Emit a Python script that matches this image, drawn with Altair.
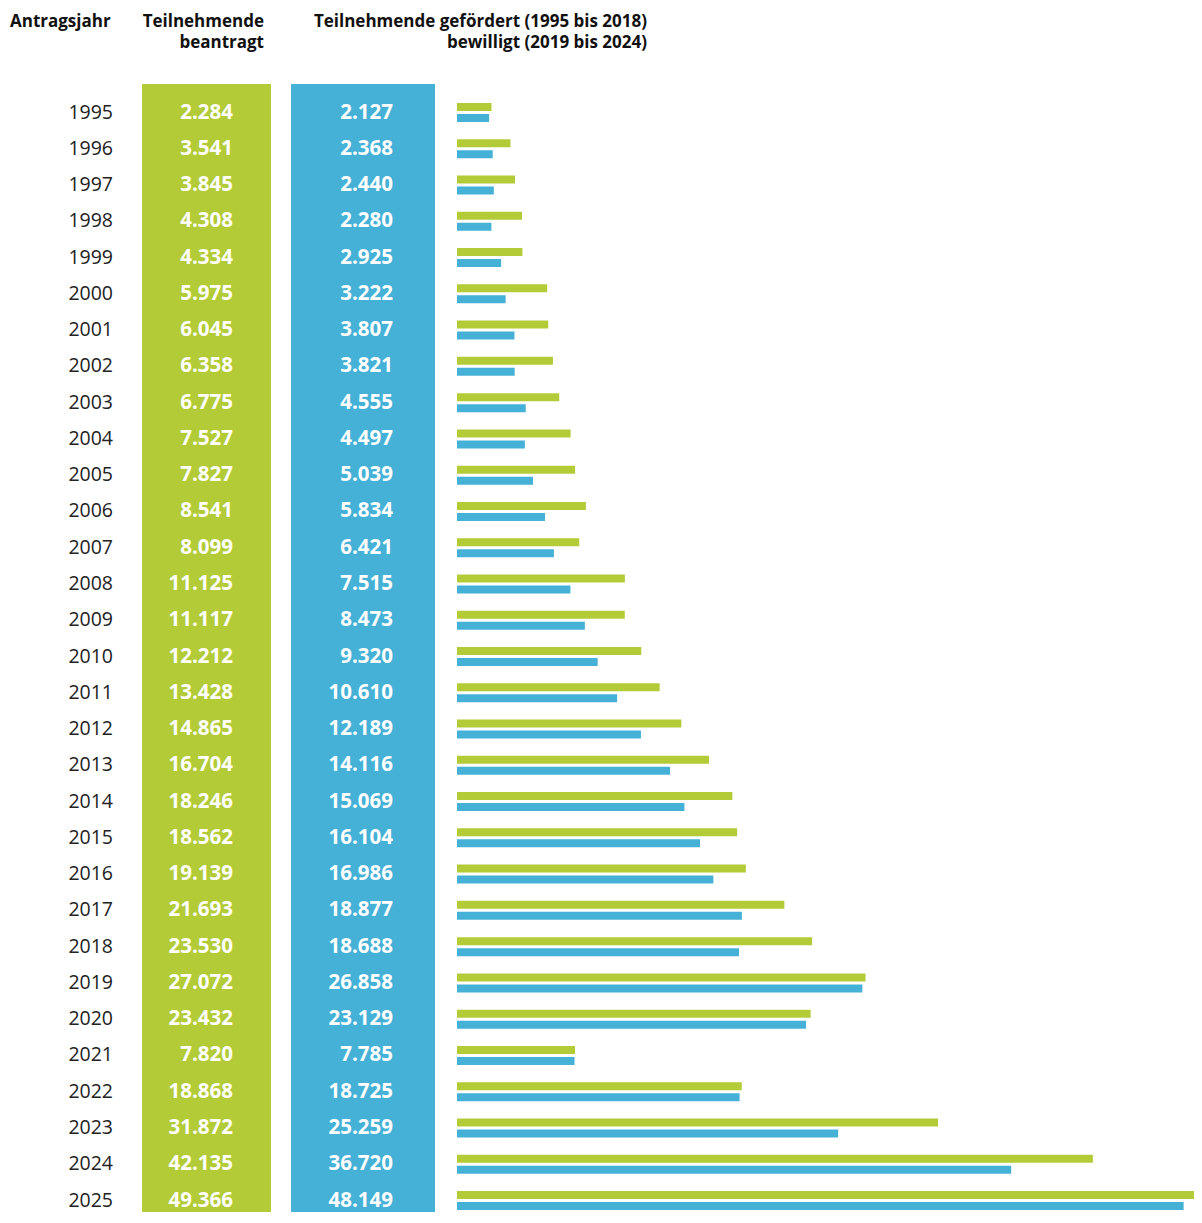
import altair as alt
import pandas as pd

years = list(range(1995, 2026))
beantragt = [2284, 3541, 3845, 4308, 4334, 5975, 6045, 6358, 6775, 7527, 7827, 8541, 8099,
             11125, 11117, 12212, 13428, 14865, 16704, 18246, 18562, 19139, 21693, 23530,
             27072, 23432, 7820, 18868, 31872, 42135, 49366]
gefoerdert = [2127, 2368, 2440, 2280, 2925, 3222, 3807, 3821, 4555, 4497, 5039, 5834, 6421,
              7515, 8473, 9320, 10610, 12189, 14116, 15069, 16104, 16986, 18877, 18688,
              26858, 23129, 7785, 18725, 25259, 36720, 48149]
header_year = "Antragsjahr"
header_green = ["Teilnehmende", "beantragt"]
header_blue = ["Teilnehmende gefördert (1995 bis 2018)", "bewilligt (2019 bis 2024)"]

GREEN = "#b2cb37"
BLUE = "#45b1d7"
FONT = "Open Sans"
W = 1186
H = 1204
HEAD_Y = 18.5
HEAD_FS = 17


def fmt(v):
    return f"{v:,}".replace(",", ".")


df = pd.DataFrame({"year": years, "beantragt": beantragt, "gefoerdert": gefoerdert})
df["year_s"] = df["year"].astype(str)
df["lb"] = df["beantragt"].map(fmt)
df["lg"] = df["gefoerdert"].map(fmt)

one = pd.DataFrame({"k": [0]})

yscale = alt.Scale(domain=[1995, 2025], range=[104.5, 1192.5], padding=0, nice=False, zero=False)
xscale = alt.Scale(domain=[0, 49366], range=[449, 1194], padding=0, nice=False)
Y = alt.Y("year:Q", scale=yscale, axis=None)

base = alt.Chart(df)

bg_green = alt.Chart(one).mark_rect(color=GREEN).encode(
    x=alt.value(134), x2=alt.value(263), y=alt.value(76), y2=alt.value(H))
bg_blue = alt.Chart(one).mark_rect(color=BLUE).encode(
    x=alt.value(283), x2=alt.value(427), y=alt.value(76), y2=alt.value(H))

bars_g = base.mark_bar(orient="horizontal", size=8, yOffset=-5.5, color=GREEN).encode(
    x=alt.X("beantragt:Q", scale=xscale, axis=None), y=Y)
bars_b = base.mark_bar(orient="horizontal", size=8, yOffset=5.5, color=BLUE).encode(
    x=alt.X("gefoerdert:Q", scale=xscale, axis=None), y=Y)

t_year = base.mark_text(align="right", baseline="middle", font=FONT, fontSize=19.5,
                        color="#222222").encode(x=alt.value(105), y=Y, text="year_s:N")
t_g = base.mark_text(align="right", baseline="middle", font=FONT, fontSize=20.5,
                     fontWeight="bold", color="white").encode(x=alt.value(225), y=Y, text="lb:N")
t_b = base.mark_text(align="right", baseline="middle", font=FONT, fontSize=20.5,
                     fontWeight="bold", color="white").encode(x=alt.value(385), y=Y, text="lg:N")

h1 = alt.Chart(one).mark_text(text=header_year, align="left", baseline="alphabetic", font=FONT,
                              fontSize=HEAD_FS, fontWeight="bold", color="#111111").encode(
    x=alt.value(2), y=alt.value(HEAD_Y))
h2 = alt.Chart(one).mark_text(text=header_green, align="right", baseline="alphabetic", font=FONT,
                              fontSize=HEAD_FS, fontWeight="bold", lineHeight=21,
                              color="#111111").encode(x=alt.value(256), y=alt.value(HEAD_Y))
h3 = alt.Chart(one).mark_text(text=header_blue, align="right", baseline="alphabetic", font=FONT,
                              fontSize=HEAD_FS, fontWeight="bold", lineHeight=21,
                              color="#111111").encode(x=alt.value(639), y=alt.value(HEAD_Y))

chart = alt.layer(bg_green, bg_blue, bars_g, bars_b, t_year, t_g, t_b, h1, h2, h3).properties(
    width=W, height=H, padding=0, autosize=alt.AutoSizeParams(type="none")
).configure_view(stroke=None)

chart.save("out.html", embed_options={"renderer": "svg", "actions": False})
